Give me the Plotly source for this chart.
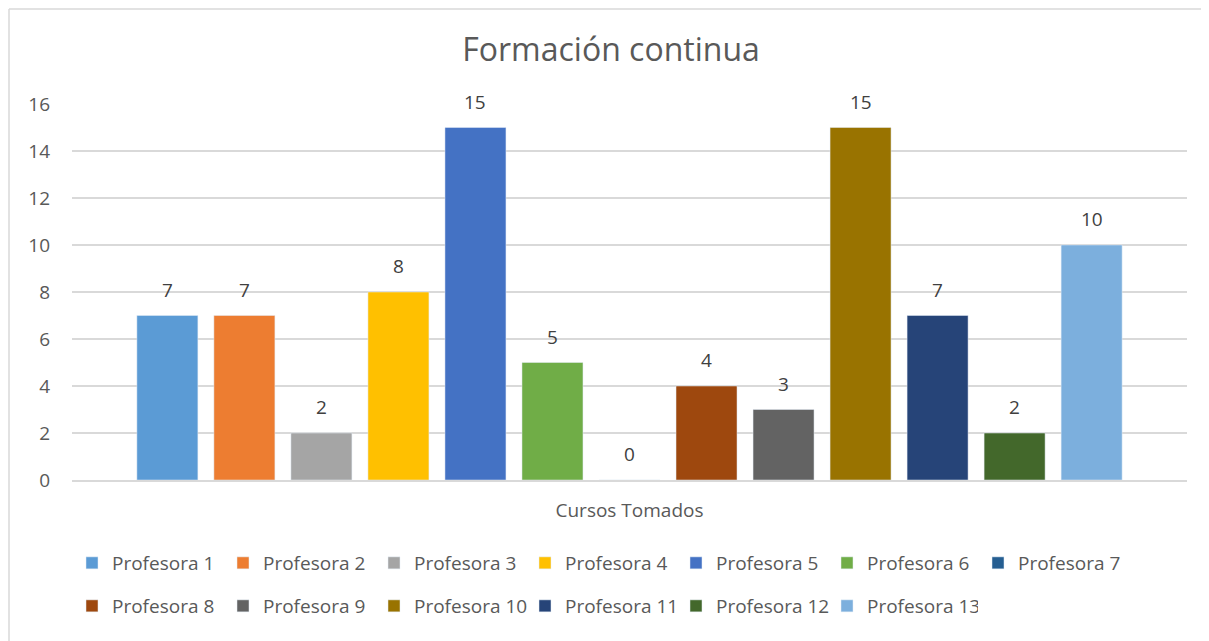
import plotly.graph_objects as go

# ── Data ────────────────────────────────────────────────────────────────────
categoria = ["Cursos Tomados"]
profesoras = [f"Profesora {i}" for i in range(1, 14)]
cursos = [7, 7, 2, 8, 15, 5, 0, 4, 3, 15, 7, 2, 10]
colores = [
    "#5B9BD5", "#ED7D31", "#A5A5A5", "#FFC000", "#4472C4", "#70AD47", "#255E91",
    "#9E480E", "#636363", "#997300", "#264478", "#43682B", "#7CAFDD",
]

# ── Geometry ────────────────────────────────────────────────────────────────
# the page body has an 8px margin, so the figure is drawn 8px smaller and
# every target page coordinate is shifted by that offset
OFF = 8
W, H = 1209 - OFF, 641 - OFF
ML, MR, MT, MB = 72 - OFF, 22, 104 - OFF, 161
PW, PH = W - ML - MR, H - MT - MB
BARGAP, GROUPGAP = 0.102, 0.208
FONT = "Open Sans, Noto Sans, sans-serif"
GREY = "#595959"


def px_x(x):
    return (x - OFF - ML) / PW


def px_y(y):
    return (H - MB - (y - OFF)) / PH


fig = go.Figure()
for i, (name, val, col) in enumerate(zip(profesoras, cursos, colores)):
    fig.add_trace(go.Bar(
        x=categoria, y=[val], name=name, marker_color=col,
        legend="legend" if i < 7 else "legend2",
    ))

# data labels above each bar (grouped slots on the category axis)
n = len(cursos)
slot = (1 - BARGAP) / n
for i, val in enumerate(cursos):
    fig.add_annotation(
        x=-(1 - BARGAP) / 2 + (i + 0.5) * slot, y=val,
        text=str(val), showarrow=False, yanchor="bottom", yshift=11,
        font=dict(family=FONT, size=19, color="#404040"),
    )

# chart border: only the top and left edges are visible in the crop
border = dict(color="#D9D9D9", width=1.5)
fig.add_shape(type="line", xref="paper", yref="paper", layer="below",
              x0=px_x(9), x1=px_x(1240), y0=px_y(9), y1=px_y(9), line=border)
fig.add_shape(type="line", xref="paper", yref="paper", layer="below",
              x0=px_x(9), x1=px_x(9), y0=px_y(9), y1=px_y(680), line=border)

legend_common = dict(
    orientation="h", xanchor="left", yanchor="middle",
    font=dict(family=FONT, size=19, color=GREY),
    entrywidth=106, entrywidthmode="pixels",
    bgcolor="rgba(0,0,0,0)", traceorder="normal",
)

fig.update_layout(
    width=W, height=H,
    margin=dict(l=ML, r=MR, t=MT, b=MB),
    paper_bgcolor="white", plot_bgcolor="white",
    barmode="group", bargap=BARGAP, bargroupgap=GROUPGAP,
    title=dict(
        text="Formación continua", x=(611 - OFF) / W, xref="container",
        y=1 - (50 - OFF) / H, yanchor="middle",
        font=dict(family=FONT, size=32, color=GREY),
    ),
    font=dict(family=FONT, color=GREY),
    legend=dict(x=px_x(72), y=px_y(563), **legend_common),
    legend2=dict(x=px_x(72), y=px_y(606), **legend_common),
)
fig.update_xaxes(
    showline=True, linecolor="#D9D9D9", linewidth=1.5,
    ticks="", ticklabelstandoff=12,
    tickfont=dict(family=FONT, size=19, color=GREY),
    showgrid=False,
)
fig.update_yaxes(
    range=[0, 16], dtick=2, showgrid=True, gridcolor="#D9D9D9", gridwidth=1.5,
    zeroline=False, ticks="", ticklabelstandoff=21,
    tickfont=dict(family=FONT, size=19, color=GREY),
)

fig.write_html("out.html")
